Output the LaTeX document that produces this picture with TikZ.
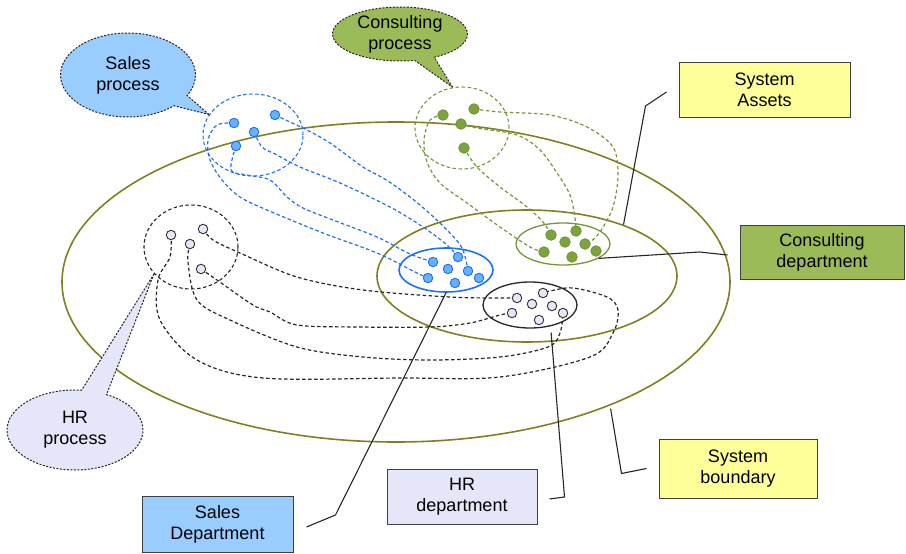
\documentclass[tikz,border=0pt]{standalone}
\usepackage{fontspec}
\setmainfont{Liberation Sans}
\usetikzlibrary{shapes.geometric, shapes.callouts}
\pgfdeclarelayer{bg}
\pgfsetlayers{bg,main}

\definecolor{olivering}{RGB}{128,128,32}
\definecolor{salesblue}{RGB}{30,110,255}
\definecolor{salesfill}{RGB}{153,204,255}
\definecolor{salesdotfill}{RGB}{102,178,255}
\definecolor{consgreen}{RGB}{119,150,60}
\definecolor{consfill}{RGB}{155,187,89}
\definecolor{consdotfill}{RGB}{122,165,62}
\definecolor{hrfill}{RGB}{230,230,250}
\definecolor{notefill}{RGB}{255,255,153}

\tikzset{
  area/.style={ellipse, inner sep=0pt, line width=1.6pt},
  procring/.style={ellipse, inner sep=0pt, line width=1.1pt, dash pattern=on 3.5pt off 2.5pt},
  dot/.style={circle, inner sep=0pt, minimum size=9.5pt, line width=0.9pt},
  salesdot/.style={dot, draw=salesblue, fill=salesdotfill},
  consdot/.style={dot, minimum size=10.5pt, draw=consgreen, fill=consdotfill},
  hrdot/.style={dot, draw=black!80, fill=hrfill},
  flow/.style={line width=1.2pt, dash pattern=on 3.5pt off 2.5pt},
  bubble/.style={ellipse callout, draw=black!85, line width=1pt, dash pattern=on 2pt off 1.5pt, inner sep=0pt, align=center},
  note/.style={draw=black!75, line width=1pt, align=center},
  leader/.style={line width=1.1pt, black!85}
}

\begin{document}
\begin{tikzpicture}[x=1pt, y=-1pt, font=\fontsize{18}{21}\selectfont]
\useasboundingbox (0,0) rectangle (906,554);

% boundary, assets and the three departments
\begin{pgfonlayer}{bg}
\node[area, draw=olivering, minimum width=668pt, minimum height=320pt] (boundary) at (396,282) {};
\node[area, draw=olivering, minimum width=300pt, minimum height=132pt] (assetsarea) at (527,276) {};
\node[area, draw=salesblue, minimum width=94pt, minimum height=44pt] (salesarea) at (446,270) {};
\node[area, draw=consgreen, line width=1.3pt, minimum width=94pt, minimum height=42pt] (consarea) at (563,244) {};
\node[area, draw=black!85, line width=1.3pt, minimum width=94pt, minimum height=46pt] (hrarea) at (530,305) {};

% process rings
\node[procring, draw=salesblue, minimum width=100pt, minimum height=82pt] (salesproc) at (253,135) {};
\node[procring, draw=consgreen, minimum width=94pt, minimum height=82pt] (consproc) at (462,128) {};
\node[procring, draw=black!85, minimum width=94pt, minimum height=84pt] (hrproc) at (191,247) {};
\end{pgfonlayer}

% sales
\node[salesdot] (sp1) at (234,123) {};
\node[salesdot] (sp2) at (254,132) {};
\node[salesdot] (sp3) at (275,115) {};
\node[salesdot] (sp4) at (236,146) {};
\node[salesdot] (sd1) at (433,262) {};
\node[salesdot] (sd2) at (458,257) {};
\node[salesdot] (sd3) at (448,269) {};
\node[salesdot] (sd4) at (468,271) {};
\node[salesdot] (sd5) at (479,278) {};
\node[salesdot] (sd6) at (428,278) {};
\node[salesdot] (sd7) at (455,283) {};

% consulting
\node[consdot] (cp1) at (443,115) {};
\node[consdot] (cp2) at (474,109) {};
\node[consdot] (cp3) at (461,124) {};
\node[consdot] (cp4) at (464,148) {};
\node[consdot] (cd1) at (551,235) {};
\node[consdot] (cd2) at (576,231) {};
\node[consdot] (cd3) at (565,242) {};
\node[consdot] (cd4) at (585,244) {};
\node[consdot] (cd5) at (596,251) {};
\node[consdot] (cd6) at (544,252) {};
\node[consdot] (cd7) at (572,257) {};

% hr
\node[hrdot] (hp1) at (171,235) {};
\node[hrdot] (hp2) at (203,229) {};
\node[hrdot] (hp3) at (190,244) {};
\node[hrdot] (hp4) at (201,269) {};
\node[hrdot] (hd1) at (517,298) {};
\node[hrdot] (hd2) at (543,293) {};
\node[hrdot] (hd3) at (532,304) {};
\node[hrdot] (hd4) at (552,306) {};
\node[hrdot] (hd5) at (512,313) {};
\node[hrdot] (hd6) at (539,320) {};
\node[hrdot] (hd7) at (563,313) {};

\begin{pgfonlayer}{bg}
\draw[flow, salesblue] plot[smooth, tension=0.55] coordinates {(sp1) (217,125) (208,140) (210,160) (222,180) (240,197) (267,210) (323,233) (377,253) (415,272) (sd6)};
\draw[flow, salesblue] plot[smooth, tension=0.55] coordinates {(sp4) (231,170) (247,175) (270,180) (287,197) (303,208) (333,220) (377,237) (410,254) (sd1)};
\draw[flow, salesblue] plot[smooth, tension=0.55] coordinates {(sp2) (262,147) (275,154) (300,167) (340,183) (390,207) (423,227) (447,245) (sd2)};
\draw[flow, salesblue] plot[smooth, tension=0.55] coordinates {(sp3) (290,122) (307,130) (330,143) (363,167) (383,178) (398,188) (420,205) (445,228) (462,248) (sd4)};

\draw[flow, consgreen] plot[smooth, tension=0.55] coordinates {(cp1) (430,120) (424,140) (427,162) (440,183) (467,203) (500,227) (530,247) (cd6)};
\draw[flow, consgreen] plot[smooth, tension=0.55] coordinates {(cp3) (477,128) (517,135) (540,150) (557,173) (570,195) (575,218) (cd2)};
\draw[flow, consgreen] plot[smooth, tension=0.55] coordinates {(cp4) (477,167) (500,187) (527,207) (543,222) (cd1)};
\draw[flow, consgreen] plot[smooth, tension=0.55] coordinates {(cp2) (500,112) (550,115) (587,127) (613,147) (618,175) (613,207) (600,232) (590,242) (cd4)};

\draw[flow, black!85] plot[smooth, tension=0.55] coordinates {(hp2) (213,240) (240,253) (297,277) (363,290) (450,297) (505,298) (hd1)};
\draw[flow, black!85] plot[smooth, tension=0.55] coordinates {(hp4) (217,280) (253,305) (270,312) (297,325) (360,327) (430,327) (470,323) (500,315) (hd5)};
\draw[flow, black!85] plot[smooth, tension=0.55] coordinates {(hp3) (188,262) (197,300) (230,320) (297,347) (363,357) (430,360) (500,357) (548,347) (560,333) (hd7)};
\draw[flow, black!85] plot[smooth, tension=0.55] coordinates {(hp1) (170,257) (158,280) (160,320) (197,360) (263,378) (400,378) (500,377) (590,357) (613,333) (618,310) (607,297) (573,288) (550,291) (hd2)};
\end{pgfonlayer}

% callouts
\node[bubble, fill=salesfill, minimum width=135pt, minimum height=84pt, callout pointer arc=18, callout absolute pointer={(salesproc.155)}] (salescall) at (128,75) {Sales\\process};
\node[bubble, fill=consfill, minimum width=135pt, minimum height=54pt, callout pointer arc=18, callout absolute pointer={(consproc.103)}] (conscall) at (400,34) {Consulting\\process};
\node[bubble, fill=hrfill, minimum width=136pt, minimum height=80pt, callout pointer arc=22, callout absolute pointer={(hrproc.216)}] (hrcall) at (75,430) {HR\\process};

% labels
\node[note, fill=notefill, minimum width=171pt, minimum height=55pt] (assets) at (764.5,89.5) {System\\Assets};
\node[note, fill=consfill, minimum width=164pt, minimum height=54pt] (consbox) at (822,252) {Consulting\\department};
\node[note, fill=salesfill, minimum width=151pt, minimum height=56pt] (salesbox) at (217.5,524) {Sales\\Department};
\node[note, fill=hrfill, minimum width=150pt, minimum height=55pt] (hrbox) at (462,496.5) {HR\\department};
\node[note, fill=notefill, minimum width=158pt, minimum height=59pt] (boundbox) at (738,468.5) {System\\boundary};

\draw[leader] ([shift={(-12,2.5)}]assets.west) -- ++(-21,14) -- (assetsarea.28);
\draw[leader] ([shift={(-12,3)}]consbox.west) -- ++(-28,-3) -- (consarea.-22);
\draw[leader] ([shift={(13,3)}]salesbox.east) -- ++(29,-12) -- (salesarea.south);
\draw[leader, shorten >=6pt] ([shift={(12,2.5)}]hrbox.east) -- ++(15,-2) -- (hrarea.-46);
\draw[leader, shorten >=3pt] ([xshift=-12pt]boundbox.west) -- ++(-25,5) -- (boundary.-30);
\end{tikzpicture}
\end{document}
